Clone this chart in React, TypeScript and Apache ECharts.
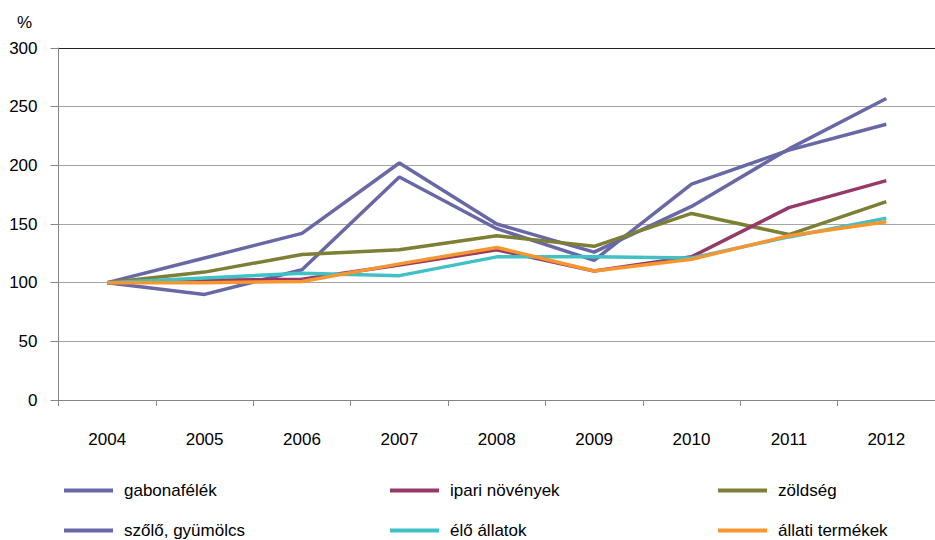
import React, { useEffect, useRef } from "react";
import * as echarts from "echarts";

const years = ["2004", "2005", "2006", "2007", "2008", "2009", "2010", "2011", "2012"];
const yTicks = [0, 50, 100, 150, 200, 250, 300];

const gabonafelek = [100, 121, 142, 202, 150, 126, 165, 214, 257];
const ipariNovenyek = [100, 102, 103, 115, 128, 110, 122, 164, 187];
const zoldseg = [100, 109, 124, 128, 140, 131, 159, 141, 169];
const szoloGyumolcs = [100, 90, 111, 190, 146, 119, 184, 213, 235];
const eloAllatok = [100, 104, 108, 106, 122, 122, 121, 139, 155];
const allatiTermekek = [100, 100, 101, 116, 130, 110, 120, 140, 152];

const seriesDefs = [
  { name: "gabonafélék", data: gabonafelek, color: "#6868A6" },
  { name: "ipari növények", data: ipariNovenyek, color: "#953A68" },
  { name: "zöldség", data: zoldseg, color: "#7C7F34" },
  { name: "szőlő, gyümölcs", data: szoloGyumolcs, color: "#6868A6" },
  { name: "élő állatok", data: eloAllatok, color: "#3FC1C6" },
  { name: "állati termékek", data: allatiTermekek, color: "#F7962F" },
];

// draw order so that orange lies on top as in the reference
const drawOrder = [0, 3, 2, 1, 4, 5];

const legendPos = [
  { left: 64, top: 482 },
  { left: 390, top: 482 },
  { left: 718, top: 482 },
  { left: 64, top: 522 },
  { left: 390, top: 522 },
  { left: 718, top: 522 },
];

const FONT = "'Liberation Sans', Arial, sans-serif";

export default function App() {
  const ref = useRef<HTMLDivElement>(null);
  useEffect(() => {
    if (!ref.current) return;
    const chart = echarts.init(ref.current, undefined, { renderer: "svg" });
    chart.setOption({
      animation: false,
      backgroundColor: "#ffffff",
      textStyle: { fontFamily: FONT },
      grid: { left: 58.5, top: 48, height: 352, width: 890, containLabel: false },
      graphic: [
        {
          type: "text",
          left: 17,
          top: 14,
          style: { text: "%", fontSize: 17, fontFamily: FONT, fill: "#000" },
        },
      ],
      legend: seriesDefs.map((s, i) => ({
        data: [s.name],
        left: legendPos[i].left,
        top: legendPos[i].top,
        orient: "horizontal",
        icon: "rect",
        itemWidth: 49,
        itemHeight: 4,
        itemGap: 0,
        selectedMode: false,
        padding: 0,
        textStyle: { fontSize: 17, fontFamily: FONT, color: "#000", padding: [0, 0, 0, 6] },
      })),
      xAxis: {
        type: "category",
        data: years,
        boundaryGap: true,
        axisLine: { lineStyle: { color: "#868686", width: 1 } },
        axisTick: { show: true, alignWithLabel: false, length: 6, lineStyle: { color: "#868686" } },
        axisLabel: { fontSize: 17, color: "#000", margin: 31, fontFamily: FONT },
        splitLine: { show: false },
      },
      yAxis: {
        type: "value",
        min: 0,
        max: 300,
        interval: 50,
        axisLine: { show: true, lineStyle: { color: "#868686", width: 1 } },
        axisTick: { show: true, length: 8, lineStyle: { color: "#868686" } },
        axisLabel: { fontSize: 17, color: "#000", margin: 21, fontFamily: FONT },
        splitLine: {
          show: true,
          lineStyle: {
            color: ["#A6A6A6", "#A6A6A6", "#A6A6A6", "#A6A6A6", "#A6A6A6", "#A6A6A6", "#222222"],
            width: 1,
          },
        },
      },
      series: drawOrder.map((idx) => {
        const s = seriesDefs[idx];
        return {
          name: s.name,
          type: "line",
          data: s.data,
          showSymbol: false,
          symbol: "none",
          lineStyle: { color: s.color, width: 3.5 },
          itemStyle: { color: s.color },
          z: 2 + drawOrder.indexOf(idx),
        };
      }),
    });
    return () => chart.dispose();
  }, []);
  return <div ref={ref} style={{ width: 935, height: 540, position: "absolute", left: 0, top: 0 }} />;
}
